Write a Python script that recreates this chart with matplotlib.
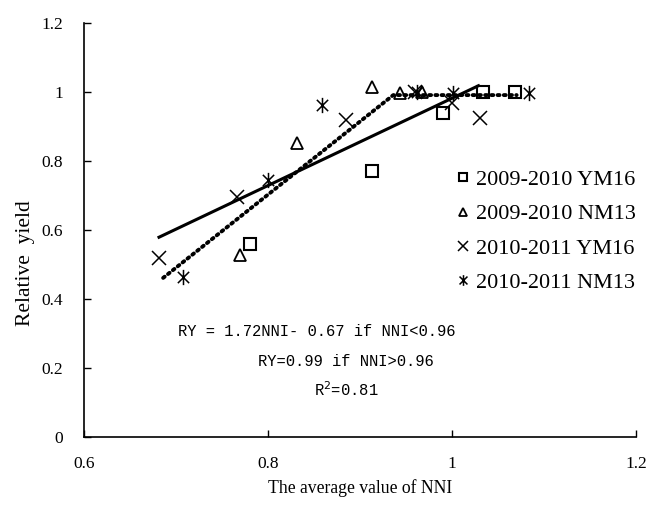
import matplotlib.pyplot as plt
from matplotlib.path import Path
import numpy as np

plt.rcParams['font.family'] = ['Liberation Serif', 'DejaVu Serif']

# === data ===
ym16_0910_x = [0.78, 0.913, 0.99, 1.034, 1.068]
ym16_0910_y = [0.56, 0.77, 0.94, 1.00, 1.00]

nm13_0910_x = [0.77, 0.831, 0.913, 0.943, 0.967]
nm13_0910_y = [0.528, 0.852, 1.014, 0.997, 1.0]

ym16_1011_x = [0.681, 0.766, 0.885, 0.96, 1.0, 1.03]
ym16_1011_y = [0.519, 0.696, 0.919, 1.0, 0.968, 0.925]

nm13_1011_x = [0.708, 0.80, 0.859, 0.962, 1.001, 1.083]
nm13_1011_y = [0.464, 0.745, 0.962, 1.0, 0.997, 0.997]

# linear fit (solid) and linear-plateau fit (dotted)
lin_x = [0.68, 1.03]
lin_y = [0.577, 1.02]
lp_x = [0.686, 0.936, 1.07]
lp_y = [0.461, 0.991, 0.991]

labels = ['2009-2010 YM16', '2009-2010 NM13', '2010-2011 YM16', '2010-2011 NM13']

# asterisk marker like excel: x plus vertical bar
star = Path([(-1, -1), (1, 1), (-1, 1), (1, -1), (0, -1.35), (0, 1.35)],
            [Path.MOVETO, Path.LINETO, Path.MOVETO, Path.LINETO, Path.MOVETO, Path.LINETO])

fig = plt.figure(figsize=(6.46, 5.11), dpi=100)
ax = fig.add_axes([0.130, 0.145, 0.855, 0.810])

ax.plot(lin_x, lin_y, color='black', linewidth=2.2, solid_capstyle='butt')
ax.plot(lp_x, lp_y, color='black', linewidth=2.8, linestyle=(0, (0.5, 1.1)),
        dash_capstyle='round')

ax.plot(ym16_0910_x, ym16_0910_y, 's', ms=8, mfc='none', mec='black', mew=1.5, label=labels[0])
ax.plot(nm13_0910_x, nm13_0910_y, '^', ms=9, mfc='none', mec='black', mew=1.3, label=labels[1])
ax.plot(ym16_1011_x, ym16_1011_y, 'x', ms=10, mec='black', mew=1.1, label=labels[2])
ax.plot(nm13_1011_x, nm13_1011_y, marker=star, linestyle='none', ms=11, mec='black', mew=1.1,
        label=labels[3])

ax.set_xlim(0.6, 1.2)
ax.set_ylim(0, 1.2)
ax.set_xticks([0.6, 0.8, 1.0, 1.2])
ax.set_xticklabels(['0.6', '0.8', '1', '1.2'])
ax.set_yticks([0, 0.2, 0.4, 0.6, 0.8, 1.0, 1.2])
ax.set_yticklabels(['0', '0.2', '0.4', '0.6', '0.8', '1', '1.2'])
ax.tick_params(direction='in', length=5, width=1, labelsize=12.5)
ax.tick_params(axis='x', pad=14)
ax.tick_params(axis='y', pad=15)
ax.spines['top'].set_visible(False)
ax.spines['right'].set_visible(False)
ax.spines['left'].set_linewidth(1.2)
ax.spines['bottom'].set_linewidth(1.2)

ax.set_xlabel('The average value of NNI', fontsize=12.7)
ax.xaxis.set_label_coords(0.5, -0.103)
ax.set_ylabel('Relative  yield', fontsize=15.5)
ax.yaxis.set_label_coords(-0.089, 0.42)

leg = ax.legend(loc='upper left', bbox_to_anchor=(0.675, 0.646), frameon=False, fontsize=16,
                handlelength=0.6, handletextpad=0.25, labelspacing=0.62, markerscale=0.7,
                borderaxespad=0, borderpad=0)

mono = 'Liberation Mono'
ax.text(0.421, 0.254, 'RY = 1.72NNI- 0.67 if NNI<0.96', transform=ax.transAxes,
        family=mono, fontsize=11.2, ha='center', va='center')
ax.text(0.474, 0.182, 'RY=0.99 if NNI>0.96', transform=ax.transAxes,
        family=mono, fontsize=11.2, ha='center', va='center')
ax.text(0.474, 0.115, 'R$^2$=0.81', transform=ax.transAxes,
        family=mono, fontsize=11.2, ha='center', va='center')

plt.savefig('out.png', dpi=100)
